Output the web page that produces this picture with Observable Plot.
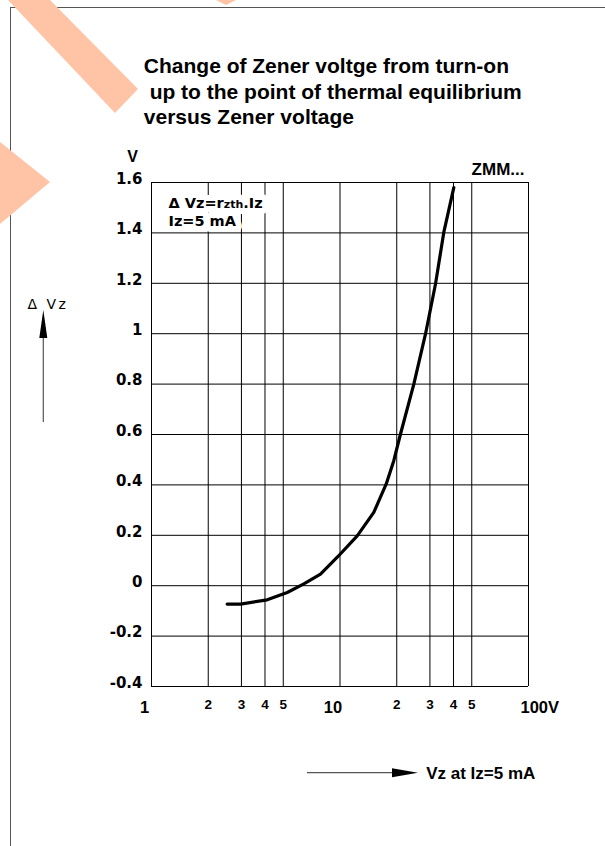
<!DOCTYPE html>
<html><head><meta charset="utf-8">
<script src="https://cdn.jsdelivr.net/npm/d3@7"></script>
<script src="https://cdn.jsdelivr.net/npm/@observablehq/plot@0.6"></script>
<style>
html,body{margin:0;padding:0;background:#fff;}
#wrap{position:relative;width:605px;height:846px;overflow:hidden;}
#chart svg{display:block;}
#border{position:absolute;left:10px;top:7px;right:0;bottom:0;border-left:1px solid #555;border-top:1px solid #555;pointer-events:none;}
#overlay{position:absolute;left:0;top:0;pointer-events:none;}
</style></head>
<body>
<div id="wrap">
  <div id="chart"></div>
  <div id="border"></div>
  <svg id="overlay" width="605" height="846">
    <g fill="#FFC4A6">
      <polygon points="8,0 50,0 138,89 115,113"/>
      <polygon points="0,142 50,182 0,224"/>
      <polygon points="216,0 236,0 226,5"/>
    </g>
    <g stroke="#555" stroke-width="1.2" fill="none">
      <line x1="43.3" y1="336" x2="43.3" y2="422"/>
      <line x1="307" y1="772.7" x2="394" y2="772.7"/>
    </g>
    <g fill="#000">
      <polygon points="43.3,310 39.3,338 47.3,338"/>
      <polygon points="418,772.7 392,768.2 392,777.2"/>
    </g>
  </svg>
</div>
<script>
// Curve: Zener voltage Vz (V) vs change of Zener voltage ΔVz (V)
const vz  = [2.52, 2.97, 4.11, 5.25, 6.43, 7.88, 9.73, 12.34, 15.11, 17.59, 19.29, 20.94, 24.64, 28.42, 32.11, 35.53, 40.15];
const dvz = [-0.073, -0.073, -0.056, -0.027, 0.007, 0.046, 0.115, 0.198, 0.291, 0.404, 0.496, 0.602, 0.800, 0.999, 1.197, 1.402, 1.580];

const xGrid = [1, 2, 3, 4, 5, 10, 20, 30, 40, 50, 100];
const xMajor = [1, 10];
const xMajorLabels = ["1", "10"];
const xEnd = [100];
const xEndLabels = ["100V"];
const xMinor = [2, 3, 4, 5, 20, 30, 40, 50];
const xMinorLabels = ["2", "3", "4", "5", "2", "3", "4", "5"];
const yTicks = [-0.4, -0.2, 0, 0.2, 0.4, 0.6, 0.8, 1, 1.2, 1.4, 1.6];
const yTickLabels = ["-0.4", "-0.2", "0", "0.2", "0.4", "0.6", "0.8", "1", "1.2", "1.4", "1.6"];

const titleText = "Change of Zener voltge from turn-on\n\u00A0up to the point of thermal equilibrium\nversus Zener voltage";
const formulaText = "\u0394 Vz=rzth.Iz\nIz=5 mA";
const yLabelText = "\u0394 Vz";

const ARIAL = "'Liberation Sans', Arial, sans-serif";
const DEJAVU = "'DejaVu Sans', sans-serif";

const rows = vz.map((v, i) => ({vz: v, dvz: dvz[i]}));

const formulaOpts = {frameAnchor: "top-left", textAnchor: "start", lineAnchor: "bottom",
  dx: 17, dy: 43.5, lineHeight: 1.262, fontSize: 14.5, fontWeight: "bold", fontFamily: DEJAVU};

const chart = Plot.plot({
  width: 605, height: 846,
  marginLeft: 151, marginRight: 77, marginTop: 182, marginBottom: 160,
  x: {type: "log", domain: [1, 100], axis: null},
  y: {domain: [-0.4, 1.6]},
  style: {background: "transparent", color: "black"},
  marks: [
    Plot.ruleX(xGrid, {stroke: "black", strokeWidth: 1}),
    Plot.ruleY(yTicks, {stroke: "black", strokeWidth: 1}),
    Plot.line(rows, {x: "vz", y: "dvz", stroke: "black", strokeWidth: 3.2, strokeLinejoin: "round"}),
    Plot.axisY(yTicks, {tickSize: 0, tickPadding: 9, label: null,
      tickFormat: (d) => yTickLabels[yTicks.indexOf(d)],
      fontSize: 15, fontWeight: "bold", fontFamily: DEJAVU, dy: -3.5, fill: "black"}),
    Plot.text(xMinor, {x: (d) => d, text: (d, i) => xMinorLabels[i], frameAnchor: "bottom",
      lineAnchor: "bottom", dy: 22, fontSize: 13.5, fontWeight: "bold", fontFamily: ARIAL, fill: "black"}),
    Plot.text(xMajor, {x: (d) => d, text: (d, i) => xMajorLabels[i], frameAnchor: "bottom",
      lineAnchor: "bottom", dy: 26.5, dx: -7, fontSize: 16.5, fontWeight: "bold", fontFamily: ARIAL, fill: "black"}),
    Plot.text(xEnd, {x: (d) => d, text: (d, i) => xEndLabels[i], frameAnchor: "bottom", textAnchor: "start",
      lineAnchor: "bottom", dy: 26.5, dx: -8, fontSize: 16.5, fontWeight: "bold", fontFamily: ARIAL, fill: "black"}),
    Plot.text([titleText], {frameAnchor: "top-left", textAnchor: "start", lineAnchor: "bottom",
      dx: -7.7, dy: -58.3, lineHeight: 1.214, fontSize: 21, fontWeight: "bold", fontFamily: ARIAL, fill: "black"}),
    Plot.text(["V"], {frameAnchor: "top-left", textAnchor: "middle", lineAnchor: "bottom",
      dx: -19, dy: -20.3, fontSize: 16, fontWeight: "bold", fontFamily: ARIAL, fill: "black"}),
    Plot.text(["ZMM..."], {frameAnchor: "top-right", textAnchor: "end", lineAnchor: "bottom",
      dx: -4, dy: -7.3, fontSize: 17, fontWeight: "bold", fontFamily: ARIAL, fill: "black"}),
    // white knock-out behind the formula, then the formula itself
    Plot.text([formulaText], {...formulaOpts, fill: "white", stroke: "white", strokeWidth: 12, strokeLinejoin: "round"}),
    Plot.text([formulaText], {...formulaOpts, fill: "black"}),
    Plot.text([yLabelText], {frameAnchor: "top-left", textAnchor: "start", lineAnchor: "bottom",
      dx: -124, dy: 126.5, fontSize: 14, fontFamily: DEJAVU, fill: "black"}),
    Plot.text(["Vz at Iz=5 mA"], {frameAnchor: "bottom-left", textAnchor: "start", lineAnchor: "bottom",
      dx: 274.7, dy: 92.7, fontSize: 17, fontWeight: "bold", fontFamily: ARIAL, fill: "black"})
  ]
});
document.getElementById("chart").appendChild(chart);

// post-process: smaller "zth" in the formula, wider spacing in the ΔVz label
d3.select(chart).selectAll("text").each(function () {
  const t = this.textContent;
  if (t.startsWith("\u0394 Vz=r")) {
    const first = this.querySelector("tspan");
    if (first) {
      const s = d3.select(first);
      s.text("");
      s.append("tspan").text("\u0394 Vz=r");
      s.append("tspan").attr("font-size", "11px").text("zth");
      s.append("tspan").text(".Iz");
    }
  } else if (t === yLabelText) {
    this.style.letterSpacing = "2.5px";
  }
});
</script>
</body></html>
